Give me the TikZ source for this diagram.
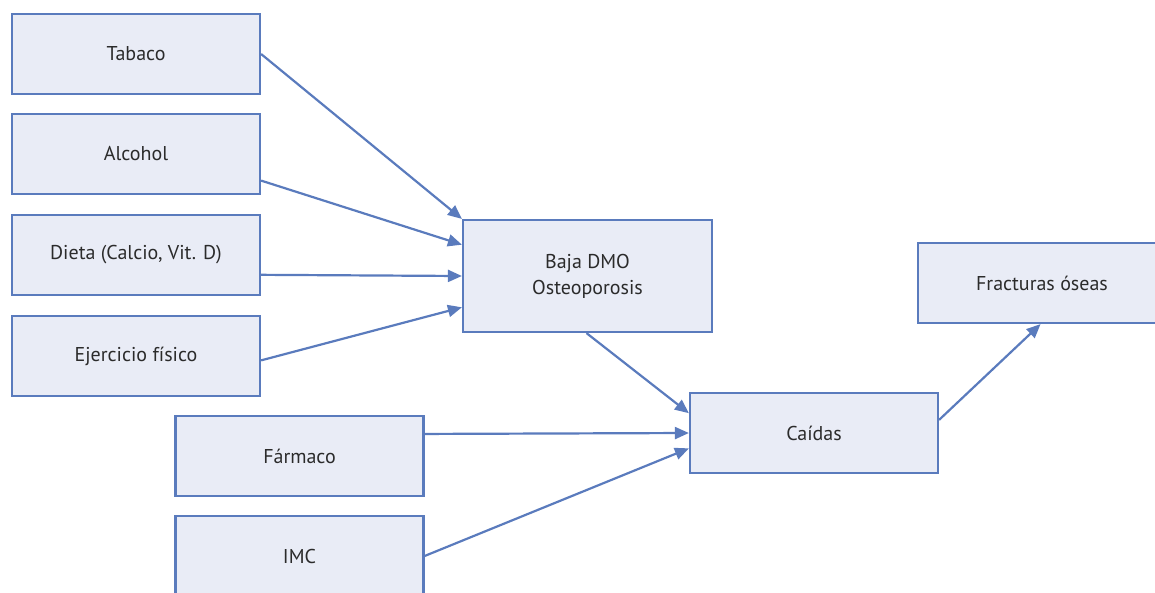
\documentclass[tikz,border=0pt]{standalone}
\usepackage{fontspec}
\setmainfont{PT Sans}
\usetikzlibrary{arrows.meta}
\definecolor{boxfill}{HTML}{E9ECF6}
\definecolor{boxline}{HTML}{5A7BBD}
\definecolor{txt}{HTML}{2B2B2B}
\tikzset{
    factor/.style={draw=boxline, fill=boxfill, line width=2.2pt, minimum width=248pt,
        minimum height=80pt, inner sep=0pt, text=txt, align=center,
        font=\fontsize{20}{26}\selectfont},
    link/.style={draw=boxline, line width=2.2pt, -{Triangle[length=14pt,width=12pt]}}
}
\begin{document}
\begin{tikzpicture}[x=1pt, y=-1pt]
        \useasboundingbox (0,0) rectangle (1155,592);
        \begin{scope}
            \clip (0,0) rectangle (1155,592);

            % Risk factors on the left
            \foreach \name/\label/\y in {tab/Tabaco/54, alc/Alcohol/154,
                die/{Dieta (Calcio, Vit. D)}/255, eje/Ejercicio físico/356} {
                \node[factor] (\name) at (136,\y) {\label};
            }
            \node[factor] (far) at (299.5,456) {Fármaco};
            \node[factor] (imc) at (299.5,556) {IMC};

            % Intermediate and outcome boxes
            \node[factor, minimum width=249pt, minimum height=112pt] (dmo) at (587.5,276) {Baja DMO\\Osteoporosis};
            \node[factor] (cai) at (814,433) {Caídas};
            \node[factor] (fra) at (1042,283) {Fracturas óseas};

            % Arrows into Baja DMO
            \draw[link] (tab.east) -- (dmo.north west);
            \draw[link] (alc.-12.7) -- (dmo.166.5);
            \draw[link] (die.-9.2) -- (dmo.west);
            \draw[link] (eje.-2.8) -- (dmo.194);

            % Arrows into Caídas
            \draw[link] (dmo.-91.5) -- (cai.171.7);
            \draw[link] (far.10.5) -- (cai.west);
            \draw[link] (imc.east) -- (cai.187.8);

            % Outcome
            \draw[link] (cai.6) -- (fra.-92);
        \end{scope}
    \end{tikzpicture}
\end{document}
